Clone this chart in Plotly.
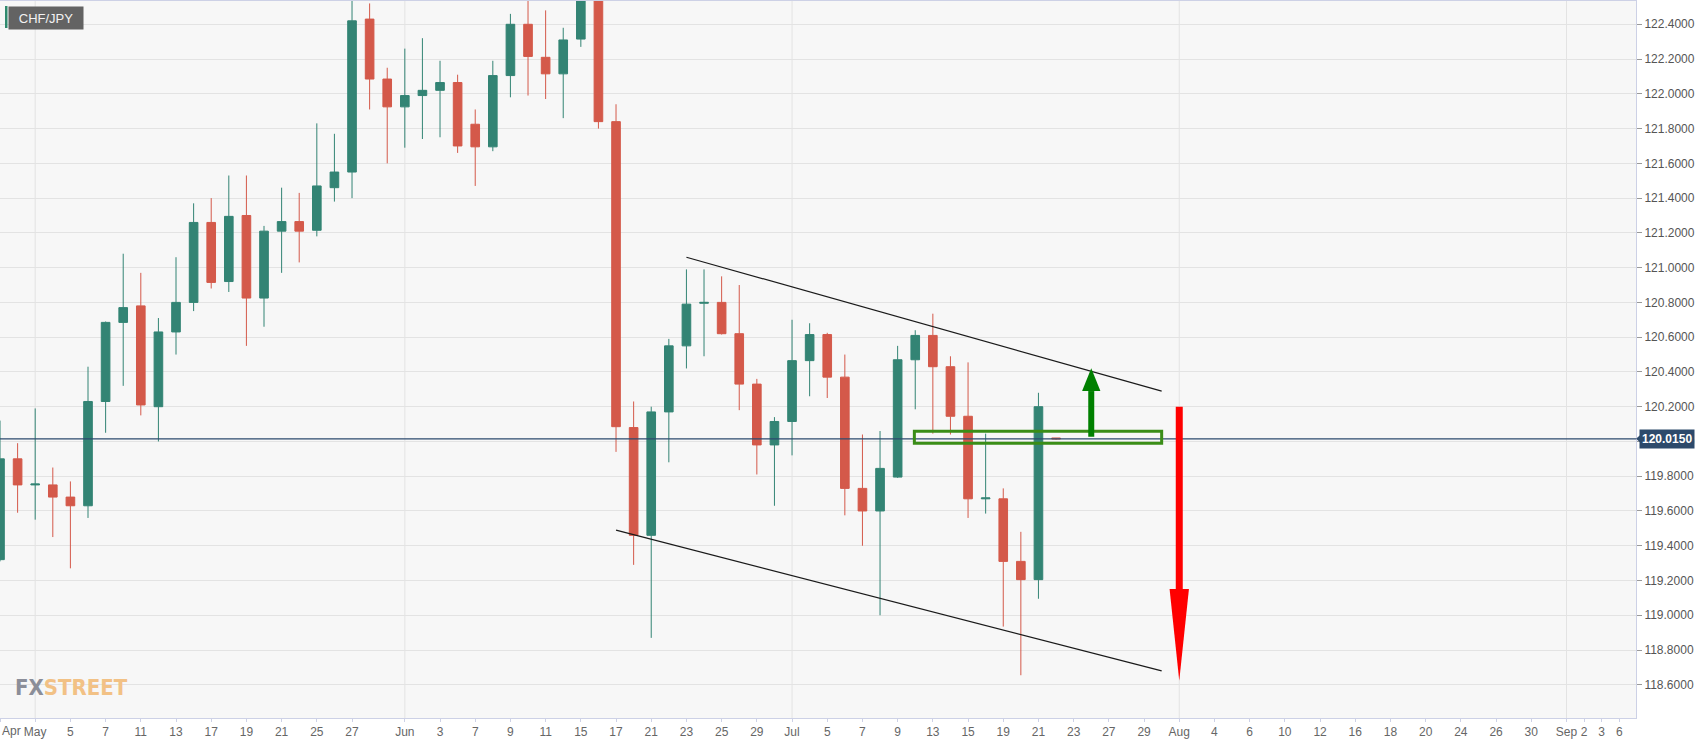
import plotly.graph_objects as go

# ---- data (daily CHF/JPY, bar index = trading-day slot) ----
bar_idx = list(range(61))
opens = [119.32, 119.90, 119.75, 119.75, 119.68, 119.63, 120.23, 120.685, 120.78, 120.20,
         120.63, 120.80, 121.26, 120.92, 121.30, 120.825, 121.21, 121.265, 121.215, 121.46,
         121.55, 122.43, 122.085, 121.925, 121.99, 122.02, 122.065, 121.825, 121.695, 122.105,
         122.40, 122.21, 122.115, 122.315, 122.62, 121.84, 120.08, 119.46, 120.17, 120.55,
         120.795, 120.80, 120.62, 120.33, 119.98, 120.115, 120.465, 120.615, 120.37, 119.73,
         119.60, 119.795, 120.47, 120.61, 120.43, 120.145, 119.67, 119.67, 119.31, 119.205,
         120.02]
highs = [120.12, 119.99, 120.19, 119.85, 119.77, 120.43, 120.69, 121.08, 120.97, 120.71,
         121.06, 121.37, 121.40, 121.53, 121.53, 121.24, 121.46, 121.43, 121.83, 121.77,
         122.56, 122.52, 122.15, 122.26, 122.32, 122.19, 122.11, 121.91, 122.19, 122.46,
         122.56, 122.48, 122.38, 122.66, 122.64, 121.94, 120.23, 120.20, 120.59, 120.99,
         120.99, 120.95, 120.90, 120.36, 120.14, 120.70, 120.68, 120.625, 120.50, 120.04,
         120.06, 120.55, 120.64, 120.735, 120.49, 120.455, 120.045, 119.73, 119.48, 120.28,
         120.02]
lows = [119.31, 119.59, 119.55, 119.45, 119.27, 119.56, 120.05, 120.32, 120.15, 120.00,
        120.50, 120.75, 120.88, 120.86, 120.55, 120.66, 120.97, 121.03, 121.18, 121.38,
        121.40, 121.91, 121.60, 121.69, 121.74, 121.75, 121.66, 121.47, 121.67, 121.98,
        121.99, 121.97, 121.86, 122.27, 121.80, 119.94, 119.29, 118.87, 119.88, 120.42,
        120.49, 120.615, 120.18, 119.81, 119.63, 119.92, 120.26, 120.25, 119.575, 119.40,
        119.00, 119.79, 120.185, 120.045, 120.04, 119.56, 119.585, 118.935, 118.655, 119.095,
        120.01]
closes = [119.90, 119.75, 119.755, 119.68, 119.63, 120.23, 120.685, 120.77, 120.21, 120.63,
          120.80, 121.26, 120.915, 121.295, 120.825, 121.21, 121.265, 121.21, 121.47, 121.55,
          122.42, 122.085, 121.925, 121.99, 122.02, 122.065, 121.70, 121.695, 122.105, 122.40,
          122.215, 122.115, 122.31, 122.62, 121.84, 120.085, 119.46, 120.17, 120.55, 120.79,
          120.80, 120.62, 120.33, 119.98, 120.115, 120.465, 120.615, 120.37, 119.73, 119.60,
          119.845, 120.47, 120.61, 120.43, 120.145, 119.67, 119.675, 119.31, 119.205, 120.20,
          120.015]

tick_pos = [0, 2, 4, 6, 8, 10, 12, 14, 16, 18, 20, 23, 25, 27, 29, 31, 33, 35, 37, 39, 41, 43,
            45, 47, 49, 51, 53, 55, 57, 59, 61, 63, 65, 67, 69, 71, 73, 75, 77, 79, 81, 83, 85,
            87, 89, 90, 91, 92]
tick_text = ["Apr", "May", "5", "7", "11", "13", "17", "19", "21", "25", "27", "Jun", "3", "7",
             "9", "11", "15", "17", "21", "23", "25", "29", "Jul", "5", "7", "9", "13", "15",
             "19", "21", "23", "27", "29", "Aug", "4", "6", "10", "12", "16", "18", "20", "24",
             "26", "30", "Sep", "2", "3", "6"]
month_pos = [2, 23, 45, 67, 89]

y_ticks = [118.6 + 0.2 * k for k in range(20)]
current_price = 120.015

# drawn annotations (index, price)
upper_trend = [(39.0, 121.06), (66.0, 120.29)]
lower_trend = [(35.0, 119.49), (66.0, 118.68)]
zone = dict(x0=51.95, x1=66.0, y0=119.99, y1=120.058)
up_arrow = dict(x=62.0, y_base=120.027, y_head=120.290, y_tip=120.421)
down_arrow = dict(x=67.0, y_base=120.20, y_head=119.151, y_tip=118.624)

GREEN = "#338474"
RED = "#d4594a"
GRID = "#e3e3e3"
FRAME = "#cdd1e6"

fig = go.Figure()
fig.add_trace(go.Candlestick(
    x=bar_idx, open=opens, high=highs, low=lows, close=closes,
    increasing=dict(line=dict(color=GREEN, width=1), fillcolor=GREEN),
    decreasing=dict(line=dict(color=RED, width=1), fillcolor=RED),
    whiskerwidth=0, showlegend=False, hoverinfo="skip",
))

shapes = []
for m in month_pos:
    shapes.append(dict(type="line", xref="x", yref="paper", x0=m, x1=m, y0=0, y1=1,
                       line=dict(color=GRID, width=1), layer="below"))
# current price line
shapes.append(dict(type="line", xref="paper", yref="y", x0=0, x1=1, y0=current_price,
                   y1=current_price, line=dict(color="#2c4a6e", width=1.2)))
# trend lines
for tl in (upper_trend, lower_trend):
    shapes.append(dict(type="line", xref="x", yref="y", x0=tl[0][0], y0=tl[0][1],
                       x1=tl[1][0], y1=tl[1][1], line=dict(color="#1a1a1a", width=1.2)))
# green zone
shapes.append(dict(type="rect", xref="x", yref="y", **zone,
                   line=dict(color="#3a8d17", width=3), fillcolor="rgba(0,0,0,0)"))
# up arrow (green)
shapes.append(dict(type="line", xref="x", yref="y", x0=up_arrow["x"], x1=up_arrow["x"],
                   y0=up_arrow["y_base"], y1=up_arrow["y_head"],
                   line=dict(color="#008000", width=6)))
hw = 0.52
shapes.append(dict(type="path", xref="x", yref="y",
                   path=f"M {up_arrow['x']-hw} {up_arrow['y_head']} L {up_arrow['x']+hw} {up_arrow['y_head']} "
                        f"L {up_arrow['x']} {up_arrow['y_tip']} Z",
                   fillcolor="#008000", line=dict(width=0)))
# down arrow (red)
shapes.append(dict(type="line", xref="x", yref="y", x0=down_arrow["x"], x1=down_arrow["x"],
                   y0=down_arrow["y_base"], y1=down_arrow["y_head"],
                   line=dict(color="#ff0000", width=7)))
hw2 = 0.55
shapes.append(dict(type="path", xref="x", yref="y",
                   path=f"M {down_arrow['x']-hw2} {down_arrow['y_head']} L {down_arrow['x']+hw2} {down_arrow['y_head']} "
                        f"L {down_arrow['x']} {down_arrow['y_tip']} Z",
                   fillcolor="#ff0000", line=dict(width=0)))

W, H = 1707, 744
ML, MR, MT, MB = 0, 71, 1, 26
PW, PH = W - ML - MR, H - MT - MB
# CHF/JPY tag accent stripe
shapes.append(dict(type="rect", xref="paper", yref="paper", x0=5 / PW, x1=7.5 / PW,
                   y0=1 - 27 / PH, y1=1 - 5 / PH, fillcolor="#2f8a6e", line=dict(width=0)))
# price tag notch
shapes.append(dict(type="path", xref="paper", yref="y",
                   path=f"M 1.0 {current_price} L {1 + 4 / PW} {current_price + 0.02} "
                        f"L {1 + 4 / PW} {current_price - 0.02} Z",
                   fillcolor="#2d4a6b", line=dict(width=0)))

annotations = [
    dict(xref="paper", yref="paper", x=7.5 / PW, y=1 - 5 / PH, xanchor="left", yanchor="top",
         text="CHF/JPY", showarrow=False, bgcolor="#636363", width=70, height=18,
         font=dict(family="Liberation Sans", size=13, color="#f2f2f2"), borderpad=2),
    dict(xref="paper", yref="y", x=1, y=current_price, xanchor="left", yanchor="middle",
         xshift=3, text="<b>120.0150</b>", showarrow=False, bgcolor="#2d4a6b",
         font=dict(family="Liberation Sans", size=12, color="#ffffff"), borderpad=2),
    dict(xref="paper", yref="paper", x=0, y=0, xanchor="left", yanchor="top", yshift=-4,
         text="Apr", showarrow=False,
         font=dict(family="Liberation Sans", size=12, color="#666666")),
    dict(xref="paper", yref="paper", x=13 / PW, y=1 - 686 / PH, xanchor="left",
         yanchor="middle", showarrow=False,
         text="<b><span style='color:#8b8e99'>FX</span><span style='color:#f2c185'>STREET</span></b>",
         font=dict(family="DejaVu Sans Condensed", size=22)),
]

tick_text_axis = [""] + tick_text[1:]

fig.update_layout(
    width=W, height=H,
    margin=dict(l=ML, r=MR, t=MT, b=MB),
    paper_bgcolor="#ffffff", plot_bgcolor="#f7f7f7",
    shapes=shapes, annotations=annotations,
    showlegend=False,
    xaxis=dict(range=[0, 92.95], tickmode="array", tickvals=tick_pos, ticktext=tick_text_axis,
               showgrid=False, zeroline=False, showline=True, linecolor=FRAME, mirror=True,
               ticks="outside", ticklen=3, tickcolor=FRAME,
               tickfont=dict(family="Liberation Sans", size=12, color="#666666"),
               rangeslider=dict(visible=False), fixedrange=True),
    yaxis=dict(side="right", range=[118.409, 122.534], tickmode="array", tickvals=y_ticks,
               tickformat=".4f", showgrid=True, gridcolor=GRID, zeroline=False,
               showline=True, linecolor=FRAME, mirror=True, ticks="outside", ticklen=5,
               tickcolor="#999999",
               tickfont=dict(family="Liberation Sans", size=12, color="#555555")),
)

fig.write_html("out.html", config={"displayModeBar": False},
               post_script="document.body.style.margin='0px';")
